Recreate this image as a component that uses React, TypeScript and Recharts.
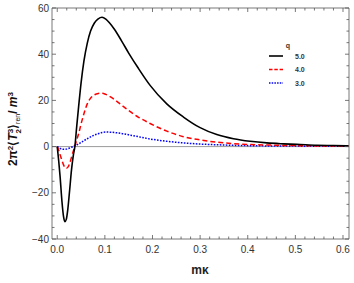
import React from 'react';
import { LineChart, Line, XAxis, YAxis, ReferenceLine } from 'recharts';

// m*kappa sample positions
const mk = [0, 0.003, 0.006, 0.01, 0.013, 0.016, 0.019, 0.022, 0.026, 0.03, 0.034, 0.037, 0.041, 0.045, 0.05, 0.056, 0.063, 0.07, 0.078, 0.086, 0.094, 0.102, 0.11, 0.12, 0.135, 0.15, 0.17, 0.195, 0.23, 0.265, 0.3, 0.335, 0.37, 0.405, 0.44, 0.475, 0.51, 0.545, 0.58, 0.612];
// q = 5.0
const q5 = [0, -6, -13, -24, -30, -32.5, -31.5, -27.5, -19, -10, -3.5, 0, 9, 17.5, 27.5, 37, 44.7, 50, 53.5, 55.3, 56, 55.2, 53.5, 50.8, 45.8, 40.5, 34, 26.5, 18.5, 12.8, 8.2, 5.2, 3.4, 2.3, 1.6, 1.2, 0.9, 0.6, 0.45, 0.3];
// q = 4.0
const q4 = [0, -1.5, -3.5, -6, -7.8, -9, -9.4, -9, -7.3, -4.6, -1.8, 0, 3, 5.6, 9.8, 14.2, 18.5, 21, 22.4, 23, 23.1, 22.6, 21.7, 20.4, 18, 15.6, 12.8, 10, 6.7, 4.3, 2.9, 1.9, 1.3, 0.9, 0.7, 0.5, 0.4, 0.3, 0.25, 0.2];
// q = 3.0
const q3 = [0, -0.4, -0.8, -1.1, -1.2, -1.2, -1.1, -0.9, -0.6, -0.3, 0.1, 0.4, 0.8, 1.2, 1.8, 2.6, 3.4, 4.2, 5, 5.6, 6.1, 6.3, 6.25, 6.1, 5.7, 5.1, 4.3, 3.3, 2.3, 1.6, 1.1, 0.8, 0.55, 0.4, 0.3, 0.25, 0.2, 0.15, 0.12, 0.1];

const xTicks = [0, 0.02, 0.04, 0.06, 0.08, 0.1, 0.12, 0.14, 0.16, 0.18, 0.2, 0.22, 0.24, 0.26, 0.28, 0.3, 0.32, 0.34, 0.36, 0.38, 0.4, 0.42, 0.44, 0.46, 0.48, 0.5, 0.52, 0.54, 0.56, 0.58, 0.6];
const yTicks = [-40, -35, -30, -25, -20, -15, -10, -5, 0, 5, 10, 15, 20, 25, 30, 35, 40, 45, 50, 55, 60];

const data = mk.map((x, i) => ({ x, q5: q5[i], q4: q4[i], q3: q3[i] }));

const FRAME = '#555';
const FONT = '"Liberation Sans", Arial, sans-serif';

const isMajorX = (v: number) => Math.abs(v * 10 - Math.round(v * 10)) < 1e-6;
const isMajorY = (v: number) => Math.abs(v / 20 - Math.round(v / 20)) < 1e-6;
const fmtY = (v: number) => (v < 0 ? '\u2212' + Math.abs(v) : String(v));

const BottomTick = (p: any) => {
  const v = p.payload.value;
  const major = isMajorX(v);
  return (
    <g>
      <line x1={p.x} x2={p.x} y1={p.y} y2={p.y - (major ? 4 : 2.5)} stroke={FRAME} strokeWidth={0.8} />
      {major && (
        <text x={p.x} y={p.y + 14} textAnchor="middle" fontSize={10} fontFamily={FONT} fill="#333">
          {v.toFixed(1)}
        </text>
      )}
    </g>
  );
};
const TopTick = (p: any) => {
  const v = p.payload.value;
  const major = isMajorX(v);
  return <line x1={p.x} x2={p.x} y1={p.y} y2={p.y + (major ? 4 : 2.5)} stroke={FRAME} strokeWidth={0.8} />;
};
const LeftTick = (p: any) => {
  const v = p.payload.value;
  const major = isMajorY(v);
  return (
    <g>
      <line x1={p.x} x2={p.x + (major ? 4 : 2.5)} y1={p.y} y2={p.y} stroke={FRAME} strokeWidth={0.8} />
      {major && (
        <text x={p.x - 3} y={p.y + 3.6} textAnchor="end" fontSize={10} fontFamily={FONT} fill="#333">
          {fmtY(v)}
        </text>
      )}
    </g>
  );
};
const RightTick = (p: any) => {
  const v = p.payload.value;
  const major = isMajorY(v);
  return <line x1={p.x} x2={p.x - (major ? 4 : 2.5)} y1={p.y} y2={p.y} stroke={FRAME} strokeWidth={0.8} />;
};

const legendItems = [
  { label: '5.0', color: '#000000', dash: undefined as string | undefined, width: 1.6 },
  { label: '4.0', color: '#ff0000', dash: '3.5 1.8', width: 1.4 },
  { label: '3.0', color: '#0000ff', dash: '1.5 1.2', width: 1.4 },
];

export default function App() {
  return (
    <div style={{ position: 'absolute', left: 0, top: 0, width: 354, height: 283, background: '#fff' }}>
      <LineChart width={354} height={283} data={data} margin={{ top: 7, right: 4, bottom: 14, left: 8 }}>
        <XAxis
          xAxisId="b"
          dataKey="x"
          type="number"
          domain={[-0.011, 0.6126]}
          allowDataOverflow
          ticks={xTicks}
          interval={0}
          tickSize={0}
          tickMargin={0}
          tickLine={false}
          tick={<BottomTick />}
          axisLine={{ stroke: FRAME, strokeWidth: 0.8 }}
          height={30}
        />
        <XAxis
          xAxisId="t"
          orientation="top"
          dataKey="x"
          type="number"
          domain={[-0.011, 0.6126]}
          allowDataOverflow
          ticks={xTicks}
          interval={0}
          tickSize={0}
          tickMargin={0}
          tickLine={false}
          tick={<TopTick />}
          axisLine={{ stroke: FRAME, strokeWidth: 0.8 }}
          height={1}
        />
        <YAxis
          yAxisId="l"
          type="number"
          domain={[-40, 60]}
          allowDataOverflow
          ticks={yTicks}
          interval={0}
          tickSize={0}
          tickMargin={0}
          tickLine={false}
          tick={<LeftTick />}
          axisLine={{ stroke: FRAME, strokeWidth: 0.8 }}
          width={44}
        />
        <YAxis
          yAxisId="r"
          orientation="right"
          type="number"
          domain={[-40, 60]}
          allowDataOverflow
          ticks={yTicks}
          interval={0}
          tickSize={0}
          tickMargin={0}
          tickLine={false}
          tick={<RightTick />}
          axisLine={{ stroke: FRAME, strokeWidth: 0.8 }}
          width={1}
        />
        <ReferenceLine xAxisId="b" yAxisId="l" y={0} stroke="#9a9a9a" strokeWidth={1} />
        <Line xAxisId="b" yAxisId="l" type="monotone" dataKey="q3" stroke="#0000ff" strokeWidth={1.5} strokeDasharray="1.6 1.4" dot={false} isAnimationActive={false} />
        <Line xAxisId="b" yAxisId="l" type="monotone" dataKey="q4" stroke="#ff0000" strokeWidth={1.5} strokeDasharray="5 3" dot={false} isAnimationActive={false} />
        <Line xAxisId="b" yAxisId="l" type="monotone" dataKey="q5" stroke="#000000" strokeWidth={1.6} dot={false} isAnimationActive={false} />
      </LineChart>
      <svg width={354} height={283} style={{ position: 'absolute', left: 0, top: 0, pointerEvents: 'none' }}>
        <text
          transform="translate(17,129) rotate(-90)"
          textAnchor="middle"
          fontFamily={FONT}
          fontWeight="bold"
          fontSize={12}
          fill="#111"
        >
          <tspan>2π</tspan>
          <tspan dy={-4.5} fontSize={8}>2</tspan>
          <tspan dy={4.5}>⟨</tspan>
          <tspan fontStyle="italic">T</tspan>
          <tspan dy={-4.5} fontSize={8}>3</tspan>
          <tspan dx={-4.5} dy={8} fontSize={8}>2</tspan>
          <tspan dy={-3.5}>⟩</tspan>
          <tspan dy={3} fontSize={7} fontWeight="normal">ren</tspan>
          <tspan dy={-3}>/</tspan>
          <tspan fontStyle="italic"> m</tspan>
          <tspan dy={-4.5} fontSize={8}>3</tspan>
        </text>
        <text x={200} y={274} textAnchor="middle" fontFamily={FONT} fontWeight="bold" fontSize={12} fill="#222">
          mκ
        </text>
        <text x={288} y={48} textAnchor="middle" fontFamily={FONT} fontWeight="bold" fontSize={7} fill="#333">
          q
        </text>
        {legendItems.map((it, i) => (
          <g key={it.label}>
            <line x1={269} x2={283} y1={56 + i * 13.5} y2={56 + i * 13.5} stroke={it.color} strokeWidth={it.width} strokeDasharray={it.dash} />
            <text x={295} y={58.5 + i * 13.5} fontFamily={FONT} fontWeight="bold" fontSize={7} fill="#333">
              {it.label}
            </text>
          </g>
        ))}
      </svg>
    </div>
  );
}
